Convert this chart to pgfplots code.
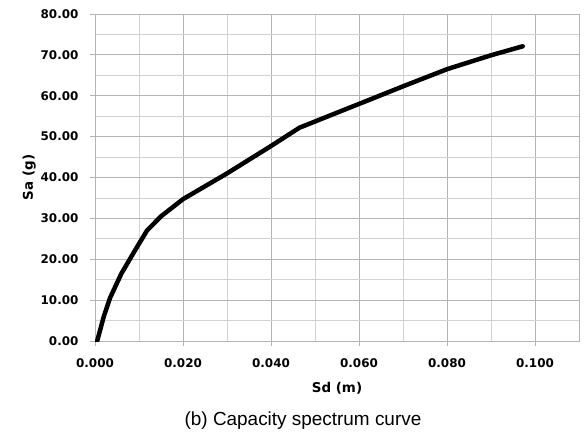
\documentclass[border=0pt]{standalone}
\usepackage{pgfplots}
\pgfplotsset{compat=1.18}
\usepackage{fontspec}
\setmainfont{DejaVu Sans}
\newfontfamily\capfont{Liberation Sans}
\definecolor{gridmaj}{RGB}{180,180,180}
\definecolor{gridmin}{RGB}{210,210,210}
\begin{document}
\begin{tikzpicture}
\begin{axis}[
  scale only axis,
  width=484bp, height=327bp,
  xmin=0, xmax=0.11, ymin=0, ymax=80,
  xtick={0,0.02,...,0.1001},
  minor xtick={0.01,0.03,...,0.1101},
  ytick={0,10,...,80},
  minor ytick={5,15,...,75},
  grid=both,
  major grid style={gridmaj, line width=0.8pt},
  minor grid style={gridmin, line width=0.8pt},
  axis line style={gridmaj, line width=0.8pt},
  tick style={gridmaj, line width=0.8pt},
  major tick length=5bp, minor tick length=0pt,
  tick align=outside,
  xtick pos=bottom, ytick pos=left,
  /pgf/number format/assume math mode=true,
  ticklabel style={font=\fontsize{12}{14}\selectfont\bfseries, text=black},
  xticklabel style={yshift=-9bp, /pgf/number format/.cd, fixed, fixed zerofill, precision=3},
  yticklabel style={xshift=-8bp, /pgf/number format/.cd, fixed, fixed zerofill, precision=2},
  scaled x ticks=false,
  xlabel={Sd (m)}, ylabel={Sa (g)},
  label style={font=\fontsize{13.5}{15}\selectfont\bfseries, text=black},
  xlabel style={yshift=-8bp},
  ylabel style={yshift=-2bp},
]
\addplot[black, line width=4.5bp, line cap=round, line join=round] coordinates {
(0.0005,0) (0.0020,6) (0.0034,10.5) (0.0060,16.5) (0.0090,22) (0.0118,27.0)
(0.0150,30.5) (0.0200,34.7) (0.0300,41.0) (0.0400,47.7) (0.0465,52.2)
(0.0500,53.7) (0.0600,58.0) (0.0700,62.3) (0.0800,66.5) (0.0900,69.9) (0.0972,72.1)
};
\end{axis}
\node[font=\capfont\fontsize{19}{21}\selectfont] at (208bp,-80bp) {(b) Capacity spectrum curve};
\pgfresetboundingbox
\path (-95bp,-93bp) rectangle (490bp,341bp);
\end{tikzpicture}
\end{document}
